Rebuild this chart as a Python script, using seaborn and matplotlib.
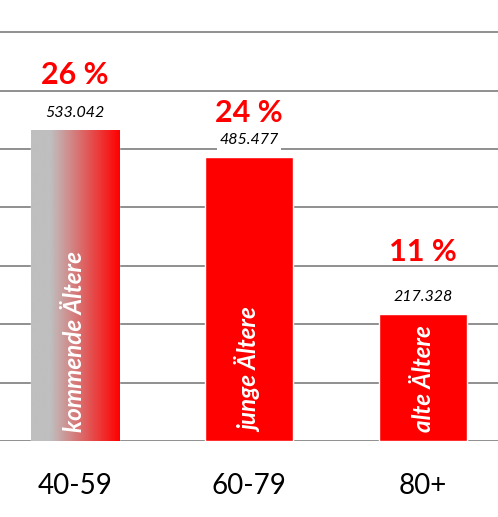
import numpy as np
import pandas as pd
import matplotlib
matplotlib.use("Agg")
import matplotlib.pyplot as plt
import matplotlib.transforms as mtransforms
from matplotlib.colors import LinearSegmentedColormap
import seaborn as sns

categories = ["40-59", "60-79", "80+"]
values = [533042, 485477, 217328]
percent_labels = ["26 %", "24 %", "11 %"]
bar_names = ["kommende Ältere", "junge Ältere", "alte Ältere"]
value_labels = ["533.042", "485.477", "217.328"]

pct_offsets_px = [55, 44, 62]

sns.set_theme(style="white")
plt.rcParams['font.family'] = ['Lato', 'DejaVu Sans']

W, H = 498, 517
fig = plt.figure(figsize=(W / 100, H / 100), dpi=100)
ax = fig.add_axes([0, 76 / H, 1, 1 - 76 / H])

df = pd.DataFrame({"cat": categories, "val": values})
sns.barplot(data=df, x="cat", y="val", color="#FF0000", saturation=1,
            width=0.506, ax=ax, zorder=3)

ax.set_xlim(-0.431, 2.431)
ax.set_ylim(0, 755000)
ax.set_yticks(np.arange(0, 700001, 100000))
ax.set_yticklabels([])
ax.yaxis.grid(True, color="#878787", linewidth=1.3, zorder=0)
ax.set_axisbelow(True)
for s in ax.spines.values():
    s.set_visible(False)
ax.set_xlabel("")
ax.set_ylabel("")
ax.tick_params(axis="x", length=0, pad=23, labelsize=20, labelcolor="black")
ax.tick_params(axis="y", length=0)

# gradient on first bar
bars = ax.patches
b0 = bars[0]
x0, w0 = b0.get_x(), b0.get_width()
cmap = LinearSegmentedColormap.from_list(
    "gr", [(0, "#BFBFBF"), (0.22, "#BFBFBF"), (1.0, "#FF0000")])
grad = np.linspace(0, 1, 256).reshape(1, -1)
im = ax.imshow(grad, cmap=cmap, aspect="auto",
               extent=[x0, x0 + w0, 0, values[0]], zorder=3.5)
im.set_clip_path(b0)
ax.set_xlim(-0.431, 2.431)
ax.set_ylim(0, 755000)

for i, (v, p, name, vl) in enumerate(zip(values, percent_labels, bar_names, value_labels)):
    tr_val = mtransforms.offset_copy(ax.transData, fig=fig, x=0, y=17 * 0.72, units="points")
    ax.text(i, v, vl, transform=tr_val, ha="center", va="center",
            fontsize=11.5, style="italic", color="black", zorder=5,
            bbox=dict(facecolor="white", edgecolor="none", pad=2))
    tr_pct = mtransforms.offset_copy(ax.transData, fig=fig, x=0,
                                     y=pct_offsets_px[i] * 0.72, units="points")
    ax.text(i, v, p, transform=tr_pct, ha="center", va="center",
            fontsize=22, fontweight="bold", color="#FF0000", zorder=5)
    tr_in = mtransforms.offset_copy(ax.transData, fig=fig, x=0, y=9 * 0.72, units="points")
    ax.text(i, 0, name, transform=tr_in, ha="center", va="bottom",
            rotation=90, fontsize=17.5, fontweight="bold", style="italic",
            color="white", zorder=5)

fig.savefig("out.png", dpi=100)
